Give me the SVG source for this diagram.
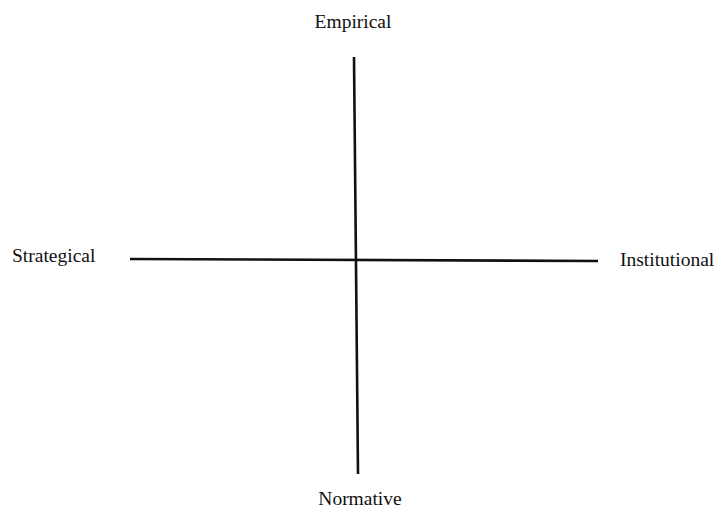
<svg xmlns="http://www.w3.org/2000/svg" width="716" height="508" viewBox="0 0 716 508">
<style>
.lbl{font-family:"Liberation Serif","Times New Roman",serif;font-size:19.5px;fill:#111}
.ax{stroke:#111;stroke-width:2.6;fill:none}
</style>
<rect width="716" height="508" fill="#fff"/>
<g id="connectors">
<line class="ax" x1="354" y1="57" x2="358" y2="474"/>
<line class="ax" x1="130" y1="259" x2="598" y2="261"/>
</g>
<g id="empirical"><text class="lbl" x="353" y="28" text-anchor="middle">Empirical</text></g>
<g id="strategical"><text class="lbl" x="12" y="262">Strategical</text></g>
<g id="institutional"><text class="lbl" x="620" y="266">Institutional</text></g>
<g id="normative"><text class="lbl" x="360" y="505" text-anchor="middle">Normative</text></g>
</svg>
